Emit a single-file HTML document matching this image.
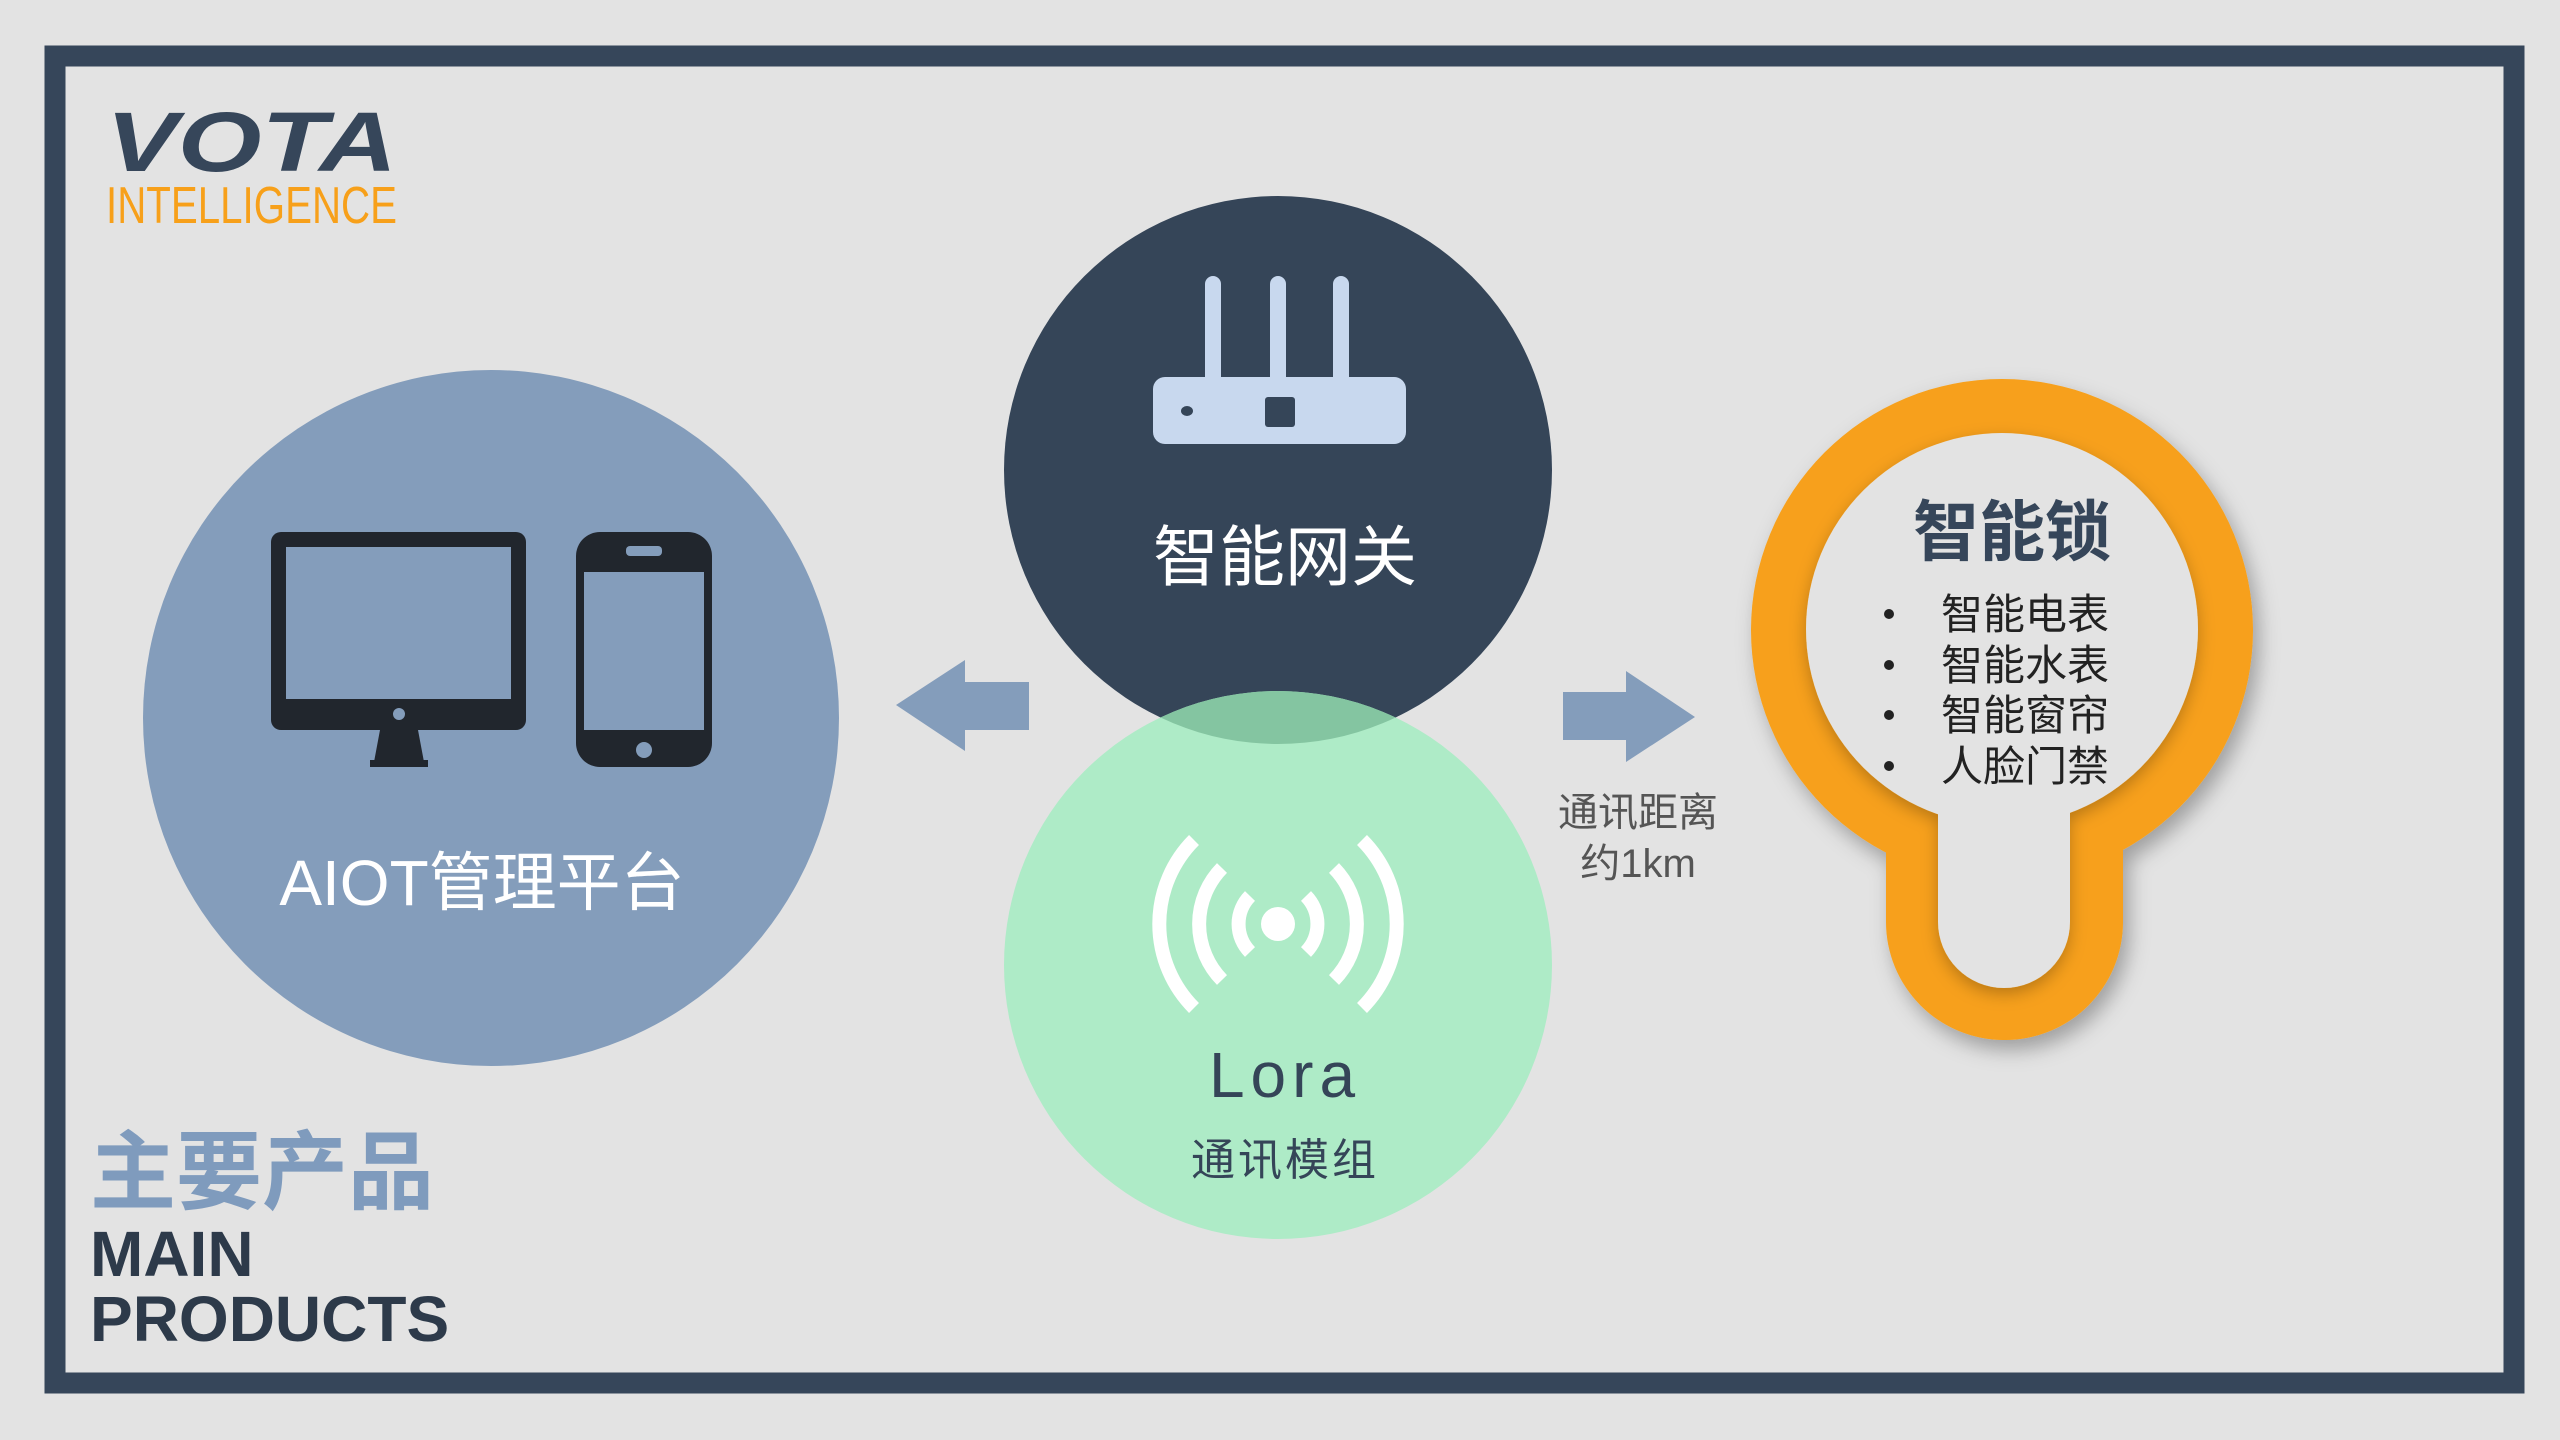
<!DOCTYPE html>
<html><head><meta charset="utf-8"><style>
html,body{margin:0;padding:0;background:#e3e3e3;}
svg{display:block}
text{font-family:"Liberation Sans","Noto Sans CJK SC",sans-serif;}
</style></head><body>
<svg width="2560" height="1440" viewBox="0 0 2560 1440" xmlns="http://www.w3.org/2000/svg">
<defs>
<clipPath id="dc"><circle cx="1278" cy="470" r="274"/></clipPath>
<filter id="sh" x="-20%" y="-20%" width="140%" height="140%"><feDropShadow dx="6" dy="10" stdDeviation="10" flood-color="#000" flood-opacity="0.3"/></filter>
<filter id="ish" x="-20%" y="-20%" width="140%" height="140%"><feDropShadow dx="0" dy="6" stdDeviation="8" flood-color="#000" flood-opacity="0.25"/></filter>
</defs>
<rect width="2560" height="1440" fill="#e3e3e3"/>
<rect x="55" y="56" width="2459" height="1327" fill="none" stroke="#36465a" stroke-width="21"/>

<!-- logo -->
<text x="106" y="171" font-size="84" font-weight="bold" font-style="italic" fill="#36465a" textLength="291" lengthAdjust="spacingAndGlyphs">VOTA</text>
<text x="106" y="223" font-size="52" fill="#f7a01a" textLength="291" lengthAdjust="spacingAndGlyphs">INTELLIGENCE</text>

<!-- blue circle -->
<circle cx="491" cy="718" r="348" fill="#849dbb"/>
<rect x="271" y="532" width="255" height="198" rx="10" fill="#21262d"/>
<rect x="286" y="547" width="225" height="152" fill="#849dbb"/>
<circle cx="399" cy="714" r="6" fill="#849dbb"/>
<polygon points="380,730 418,730 424,762 374,762" fill="#21262d"/>
<rect x="370" y="760" width="58" height="7" fill="#21262d"/>
<rect x="576" y="532" width="136" height="235" rx="24" fill="#21262d"/>
<rect x="584" y="572" width="120" height="158" fill="#849dbb"/>
<rect x="626" y="546" width="36" height="10" rx="4" fill="#849dbb"/>
<circle cx="644" cy="750" r="8" fill="#849dbb"/>
<text x="482" y="905" font-size="64" fill="#fff" text-anchor="middle">AIOT管理平台</text>

<!-- dark & green circles -->
<circle cx="1278" cy="470" r="274" fill="#354558"/>
<circle cx="1278" cy="965" r="274" fill="#aeebc7"/>
<circle cx="1278" cy="965" r="274" fill="#84c5a1" clip-path="url(#dc)"/>

<!-- router -->
<rect x="1205" y="276" width="16" height="110" rx="8" fill="#c8d8ee"/>
<rect x="1270" y="276" width="16" height="110" rx="8" fill="#c8d8ee"/>
<rect x="1333" y="276" width="16" height="110" rx="8" fill="#c8d8ee"/>
<rect x="1153" y="377" width="253" height="67" rx="12" fill="#c8d8ee"/>
<rect x="1265" y="397" width="30" height="30" rx="3" fill="#354558"/>
<ellipse cx="1187" cy="411" rx="6" ry="5" fill="#354558"/>
<text x="1285" y="580" font-size="66" fill="#fff" text-anchor="middle">智能网关</text>

<!-- wifi -->
<circle cx="1278" cy="924" r="17" fill="#fff"/>
<g fill="none" stroke="#fff" stroke-width="14">
<path d="M1250,896 A40,40 0 0 0 1250,952"/><path d="M1306,896 A40,40 0 0 1 1306,952"/>
<path d="M1222,868 A80,80 0 0 0 1222,980"/><path d="M1334,868 A80,80 0 0 1 1334,980"/>
<path d="M1194,840 A119,119 0 0 0 1194,1008"/><path d="M1362,840 A119,119 0 0 1 1362,1008"/>
</g>
<text x="1285" y="1097" font-size="64" fill="#354558" text-anchor="middle" letter-spacing="6">Lora</text>
<text x="1285" y="1175" font-size="44" fill="#354558" text-anchor="middle" letter-spacing="3">通讯模组</text>

<!-- arrows -->
<polygon points="896,705 965,660 965,682 1029,682 1029,730 965,730 965,751" fill="#849dbb"/>
<polygon points="1563,692 1626,692 1626,671 1695,717 1626,762 1626,740 1563,740" fill="#849dbb"/>
<text x="1638" y="826" font-size="40" fill="#555" text-anchor="middle">通讯距离</text>
<text x="1638" y="877" font-size="40" fill="#555" text-anchor="middle">约1km</text>

<!-- lock -->
<g filter="url(#sh)" fill="#f7a01a">
<ellipse cx="2002" cy="630" rx="251" ry="251"/>
<rect x="1886" y="760" width="237" height="280" rx="118"/>
<rect x="1886" y="760" width="237" height="160"/>
</g>
<g filter="url(#ish)" fill="#e3e3e3">
<ellipse cx="2002" cy="629" rx="196" ry="196"/>
<rect x="1938" y="760" width="132" height="228" rx="66"/>
<rect x="1938" y="760" width="132" height="150"/>
</g>
<text x="2012" y="555" font-size="66" font-weight="bold" fill="#36465a" text-anchor="middle">智能锁</text>
<g font-size="42" fill="#222">
<text x="1941" y="629">智能电表</text>
<text x="1941" y="680">智能水表</text>
<text x="1941" y="730">智能窗帘</text>
<text x="1941" y="781">人脸门禁</text>
</g>
<g fill="#222"><circle cx="1889" cy="614" r="5"/><circle cx="1889" cy="665" r="5"/><circle cx="1889" cy="715" r="5"/><circle cx="1889" cy="766" r="5"/></g>

<!-- bottom left -->
<text x="90" y="1202" font-size="86" font-weight="bold" fill="#7f9bbd">主要产品</text>
<text x="90" y="1276" font-size="64" font-weight="bold" fill="#2d3a4a">MAIN</text>
<text x="90" y="1341" font-size="64" font-weight="bold" fill="#2d3a4a">PRODUCTS</text>
</svg>
</body></html>
